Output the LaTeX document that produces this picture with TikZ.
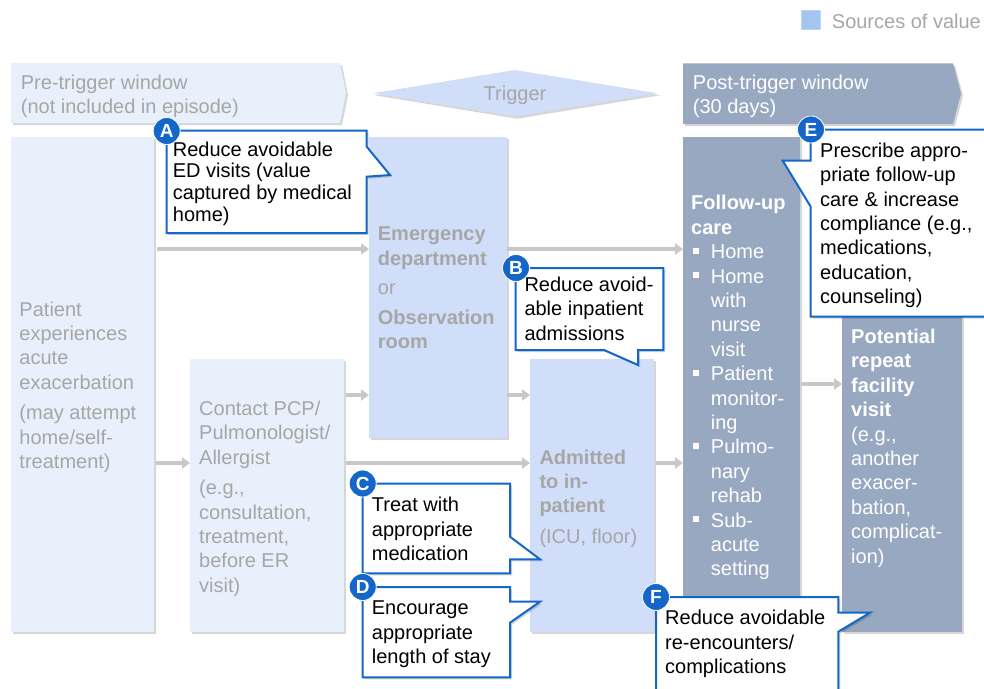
\documentclass[tikz,border=0pt]{standalone}
\usepackage{fontspec}
\setmainfont{Liberation Sans}
\usetikzlibrary{arrows.meta,shadows}
\definecolor{lightbox}{HTML}{E8F1FB}
\definecolor{midbox}{HTML}{D0DEFA}
\definecolor{darkbox}{HTML}{98A8C1}
\definecolor{graytxt}{HTML}{A6A6A6}
\definecolor{arrowgray}{HTML}{C8C8C8}
\definecolor{calloutblue}{HTML}{1466C8}
\definecolor{legendblue}{HTML}{A3C6EE}
\newcommand\fubul{\hspace*{1.7pt}\rule[5pt]{5.6pt}{5.6pt}\hspace*{12.4pt}}
\newcommand\fuind{\hspace*{19.7pt}}
\begin{document}
\begin{tikzpicture}[x=1pt,y=-1pt,
  shad/.style={drop shadow={shadow xshift=2pt,shadow yshift=-2pt,opacity=0.16,fill=black}},
  box/.style={shad,inner sep=0pt,outer sep=0pt,draw=none,anchor=north west},
  txt/.style={anchor=base west,inner sep=0pt,align=left,font=\fontsize{20}{24.4}\selectfont},
  ctxt/.style={txt,text=black},
  arr/.style={draw=arrowgray,line width=3.3pt,-{Triangle[length=8pt,width=11pt]}},
  callout/.style={draw=calloutblue,line width=2pt,fill=white,line join=miter,shad},
  badge/.style={circle,fill=calloutblue,draw=white,line width=0.8pt,minimum size=27pt,inner sep=0pt,text=white,font=\fontsize{19}{20}\selectfont\bfseries}
]
\useasboundingbox (0,0) rectangle (984,688);

% legend
\fill[legendblue,draw=legendblue!70!white,line width=0.6pt] (801,10.7) rectangle (820.5,29.5);
\node[txt,text=graytxt] (legend) at (831.7,28.3) {Sources of value};

% header shapes
\fill[lightbox,shad] (11,63) -- (340,63) -- (346,93) -- (340,123) -- (11,123) -- cycle;
\fill[midbox,shad] (372.7,93.3) -- (515,70) -- (658,93.3) -- (515,116.7) -- cycle;
\fill[darkbox,shad] (683,63.3) -- (953,63.3) -- (961,93.7) -- (953,124) -- (683,124) -- cycle;
\node[txt,text=graytxt] (pre) at (20.7,113.5) {Pre-trigger window\\(not included in episode)};
\node[txt,text=graytxt,anchor=base] (trig) at (515,100) {Trigger};
\node[txt,text=white] (post) at (692.7,113.5) {Post-trigger window\\(30 days)};

% boxes
\node[box,fill=lightbox,minimum width=143pt,minimum height=495pt] (patient) at (11,137) {};
\node[box,fill=lightbox,minimum width=154pt,minimum height=273pt] (contact) at (190,359) {};
\node[box,fill=midbox,minimum width=138pt,minimum height=301pt] (ed) at (369,137) {};
\node[box,fill=midbox,minimum width=124pt,minimum height=273pt] (adm) at (530,359) {};
\node[box,fill=darkbox,minimum width=117pt,minimum height=495pt] (fu) at (683,137) {};
\node[box,fill=darkbox,minimum width=120pt,minimum height=495pt] (pot) at (842,137) {};

% arrows
\coordinate (r1) at (0,249);
\coordinate (r2) at (0,395);
\coordinate (r3) at (0,463);
\coordinate (r4) at (0,384);
\draw[arr] ([xshift=3pt]patient.east |- r1) -- (ed.west |- r1);
\draw[arr] (ed.east |- r1) -- (fu.west |- r1);
\draw[arr] ([xshift=2pt]patient.east |- r3) -- (contact.west |- r3);
\draw[arr] ([xshift=2pt]contact.east |- r2) -- (ed.west |- r2);
\draw[arr] ([xshift=2pt]contact.east |- r3) -- (adm.west |- r3);
\draw[arr] (ed.east |- r2) -- (adm.west |- r2);
\draw[arr] ([xshift=2pt]adm.east |- r3) -- (fu.west |- r3);
\draw[arr] ([xshift=1pt]fu.east |- r4) -- (pot.west |- r4);

% box texts (anchored at the baseline of the last line)
\node[txt,text=graytxt] (patientT) at (19.3,468.4) {Patient\\experiences\\acute\\exacerbation\\[6pt](may attempt\\home/self-\\treatment)};
\node[txt,text=graytxt] (contactT) at (199,592.2) {Contact PCP/\\Pulmonologist/\\Allergist\\[6pt](e.g.,\\consultation,\\treatment,\\before ER\\visit)};
\node[txt,text=graytxt] (edT) at (377.7,348.5) {\textbf{Emergency}\\\textbf{department}\\[5pt]or\\[5pt]\textbf{Observation}\\\textbf{room}};
\node[txt,text=graytxt] (admT) at (539.3,543.2) {\textbf{Admitted}\\\textbf{to in-}\\\textbf{patient}\\[6pt](ICU, floor)};
\node[txt,text=white] (fuT) at (691,575.8) {\textbf{Follow-up}\\\textbf{care}\\\fubul Home\\\fubul Home\\\fuind with\\\fuind nurse\\\fuind visit\\\fubul Patient\\\fuind monitor-\\\fuind ing\\\fubul Pulmo-\\\fuind nary\\\fuind rehab\\\fubul Sub-\\\fuind acute\\\fuind setting};
\node[txt,text=white] (potT) at (851,563.1) {\textbf{Potential}\\\textbf{repeat}\\\textbf{facility}\\\textbf{visit}\\(e.g.,\\another\\exacer-\\bation,\\complicat-\\ion)};

% callouts
\filldraw[callout] (166.7,130.5) -- (366.7,130.5) -- (366.7,146.7) -- (390,175) -- (366.7,176.7) -- (366.7,233) -- (166.7,233) -- cycle;
\filldraw[callout] (515.7,268) -- (663.3,268) -- (663.3,350) -- (638,350) -- (638,365) -- (604,350) -- (515.7,350) -- cycle;
\filldraw[callout] (362.7,483.5) -- (510,483.5) -- (510,536.7) -- (540,559.3) -- (510,559.3) -- (510,573.3) -- (362.7,573.3) -- cycle;
\filldraw[callout] (362.7,587) -- (510,587) -- (510,601.7) -- (540,601.7) -- (510,622.7) -- (510,677.3) -- (362.7,677.3) -- cycle;
\filldraw[callout] (810.7,129.5) -- (995,129.5) -- (995,316.7) -- (810.7,316.7) -- (810.7,206.7) -- (782.7,160.7) -- (810.7,160.7) -- cycle;
\filldraw[callout] (656,597) -- (838.3,597) -- (838.3,612.7) -- (870,612.7) -- (838.3,631.7) -- (838.3,695) -- (656,695) -- cycle;

\node[ctxt,font=\fontsize{20}{21.7}\selectfont] (aT) at (172.7,221.1) {Reduce avoidable\\ED visits (value\\captured by medical\\home)};
\node[ctxt] (bT) at (524.3,340.3) {Reduce avoid-\\able inpatient\\admissions};
\node[ctxt] (cT) at (371.7,560.4) {Treat with\\appropriate\\medication};
\node[ctxt] (dT) at (371.7,663.4) {Encourage\\appropriate\\length of stay};
\node[ctxt] (eT) at (820,303.6) {Prescribe appro-\\priate follow-up\\care \& increase\\compliance (e.g.,\\medications,\\education,\\counseling)};
\node[ctxt] (fT) at (665,673.6) {Reduce avoidable\\re-encounters/\\complications};

\node[badge] (bA) at (166.7,131) {A};
\node[badge] (bB) at (516,268) {B};
\node[badge] (bC) at (362.7,483.5) {C};
\node[badge] (bD) at (362.7,587) {D};
\node[badge] (bE) at (811,129.5) {E};
\node[badge] (bF) at (656,597) {F};
\end{tikzpicture}
\end{document}
